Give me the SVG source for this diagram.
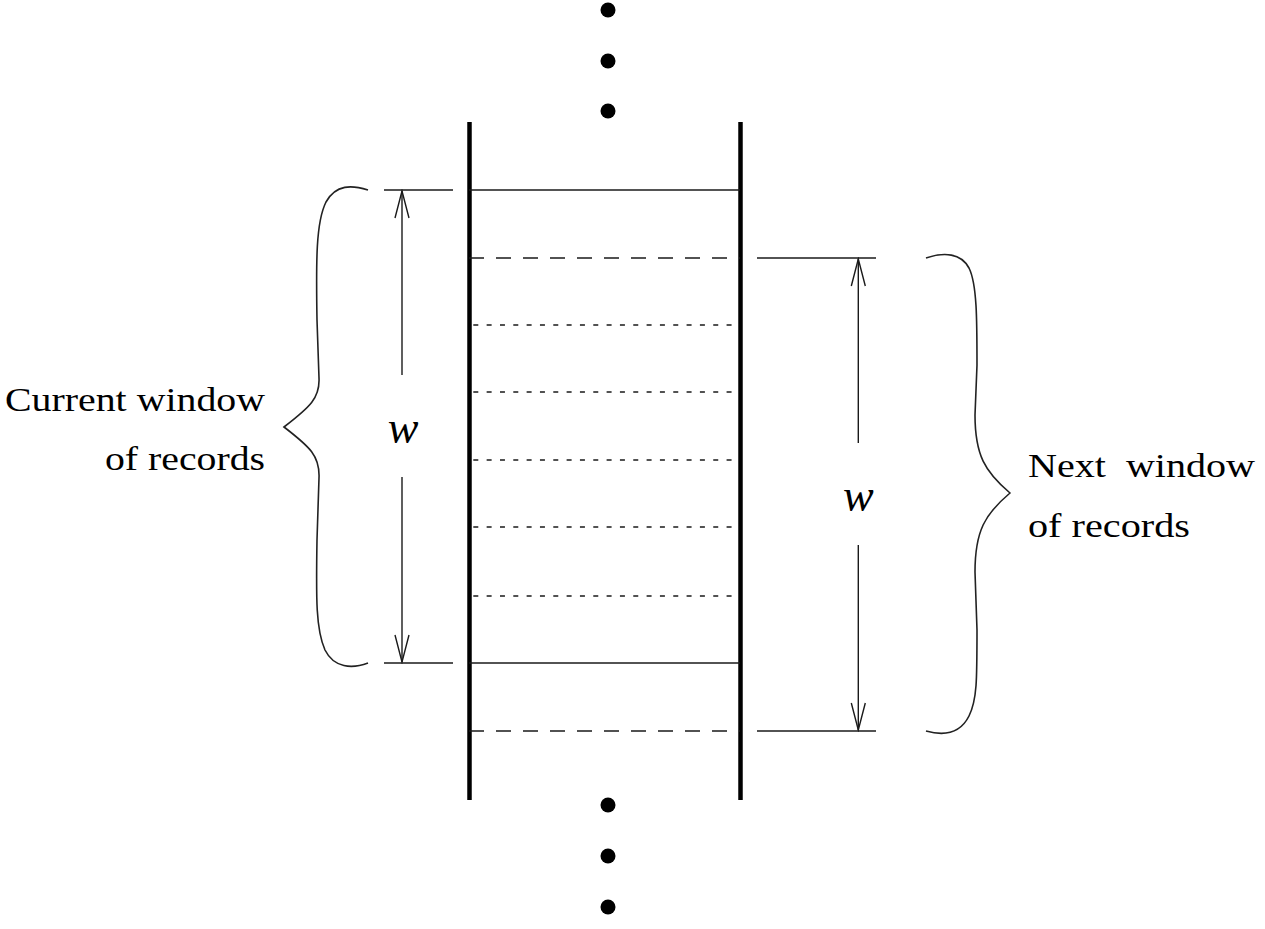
<svg xmlns="http://www.w3.org/2000/svg" width="1265" height="929" viewBox="0 0 1265 929">
<style>
.thick{stroke:#000;stroke-width:4.5;fill:none}
.thin{stroke:#1a1a1a;stroke-width:1.4;fill:none}
.dash{stroke:#1a1a1a;stroke-width:1.4;stroke-dasharray:15 12;fill:none}
.dot{stroke:#1a1a1a;stroke-width:1.4;stroke-dasharray:5 8.33;fill:none}
.brace{stroke:#222;stroke-width:1.6;fill:none}
.lbl{font-family:"Liberation Serif","Times New Roman",serif;font-size:34px;fill:#000;white-space:pre}
.w{font-family:"Liberation Serif","Times New Roman",serif;font-style:italic;font-size:46px;fill:#000}
</style>
<defs>
<marker id="arr" viewBox="-30 -8 32 16" markerWidth="32" markerHeight="16" refX="0" refY="0" orient="auto" markerUnits="userSpaceOnUse">
<path d="M-27,-7 L0,0 L-27,7" fill="none" stroke="#1a1a1a" stroke-width="1.4"/>
</marker>
</defs>
<g id="column">
<line class="thick" x1="469.5" y1="122" x2="469.5" y2="800"/>
<line class="thick" x1="740.5" y1="122" x2="740.5" y2="800"/>
<line class="thin" x1="469" y1="190" x2="740" y2="190"/>
<line class="dash" x1="469" y1="258" x2="740" y2="258"/>
<line class="dot" x1="473.3" y1="325" x2="740" y2="325"/>
<line class="dot" x1="473.3" y1="392" x2="740" y2="392"/>
<line class="dot" x1="473.3" y1="460" x2="740" y2="460"/>
<line class="dot" x1="473.3" y1="527" x2="740" y2="527"/>
<line class="dot" x1="473.3" y1="596" x2="740" y2="596"/>
<line class="thin" x1="469" y1="663" x2="740" y2="663"/>
<line class="dash" x1="469" y1="731" x2="740" y2="731"/>
</g>
<g id="dots-top">
<circle cx="608" cy="10" r="7.5"/>
<circle cx="608" cy="61" r="7.5"/>
<circle cx="608" cy="111" r="7.5"/>
</g>
<g id="dots-bottom">
<circle cx="608" cy="805" r="7.5"/>
<circle cx="608" cy="856" r="7.5"/>
<circle cx="608" cy="907" r="7.5"/>
</g>
<g id="current-window">
<line class="thin" x1="384" y1="190" x2="453" y2="190"/>
<line class="thin" x1="384" y1="663" x2="453" y2="663"/>
<path class="brace" d="M368,190 C352,185 336,184 326,202 C316,222 316,260 317,320 L319,378 C320,398 310,407 284,427 C310,447 320,456 319,478 L317,540 C316,600 316,630 325,650 C334,668 352,669 368,663"/>
<text class="lbl" x="265" y="411" text-anchor="end" textLength="260" lengthAdjust="spacingAndGlyphs">Current window</text>
<text class="lbl" x="265" y="470" text-anchor="end" textLength="160" lengthAdjust="spacingAndGlyphs">of records</text>
</g>
<g id="next-window">
<line class="thin" x1="757" y1="258" x2="876" y2="258"/>
<line class="thin" x1="757" y1="731" x2="876" y2="731"/>
<path class="brace" d="M926,258 C944,252 961,253 969,268 C977,284 977,320 977,365 L975,415 C975,455 985,472 1010,493 C985,514 975,531 975,572 L977,630 C977,680 977,700 969,716 C960,734 944,736 926,731"/>
<text class="lbl" x="1028" y="477" textLength="227" lengthAdjust="spacingAndGlyphs" xml:space="preserve">Next  window</text>
<text class="lbl" x="1028" y="537" textLength="162" lengthAdjust="spacingAndGlyphs">of records</text>
</g>
<g id="connectors">
<line class="thin" x1="402" y1="375" x2="402" y2="191" marker-end="url(#arr)"/>
<line class="thin" x1="402" y1="477" x2="402" y2="662" marker-end="url(#arr)"/>
<line class="thin" x1="858.3" y1="443" x2="858.3" y2="259" marker-end="url(#arr)"/>
<line class="thin" x1="858.3" y1="545" x2="858.3" y2="730" marker-end="url(#arr)"/>
<text class="w" x="403" y="443" text-anchor="middle">w</text>
<text class="w" x="858.3" y="511" text-anchor="middle">w</text>
</g>
</svg>
